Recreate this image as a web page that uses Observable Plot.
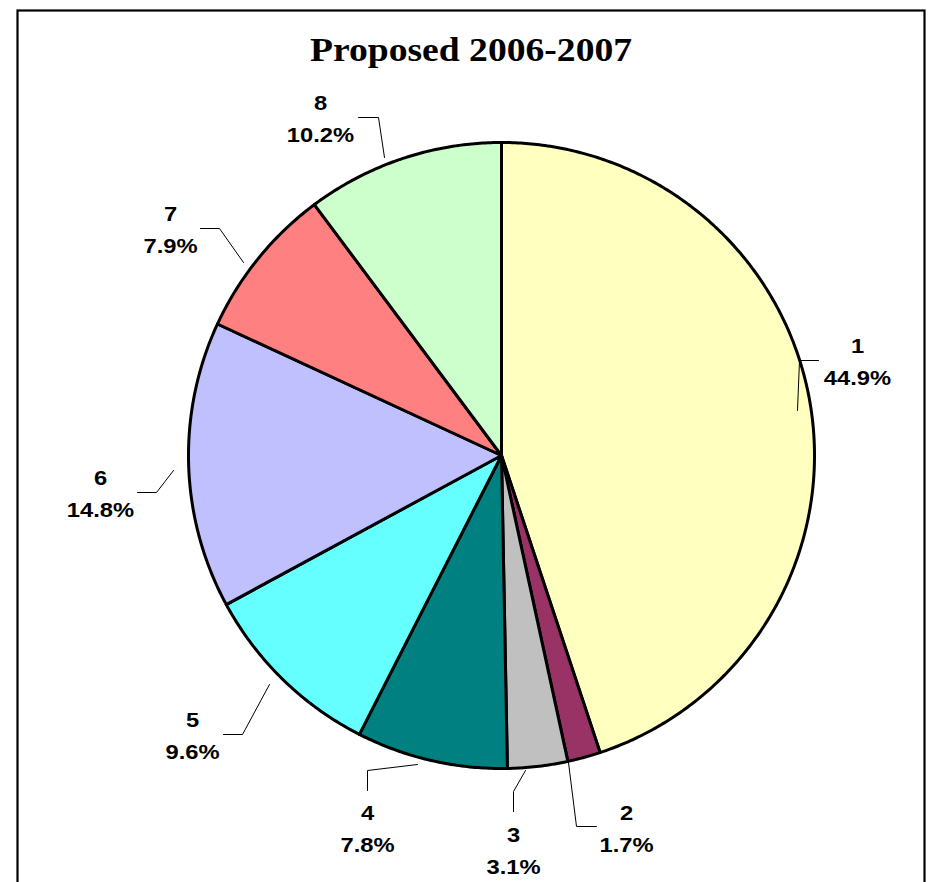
<!DOCTYPE html>
<html><head><meta charset="utf-8">
<script src="https://cdn.jsdelivr.net/npm/d3@7"></script>
<script src="https://cdn.jsdelivr.net/npm/@observablehq/plot@0.6"></script>
<style>body{margin:0;background:#fff;} #chart svg{display:block;}</style>
</head><body><div id="chart"></div>
<script>
// ---- data ----
const title = "Proposed 2006-2007";
const categories = ["1", "2", "3", "4", "5", "6", "7", "8"];
const shares = [44.9, 1.7, 3.1, 7.8, 9.6, 14.8, 7.9, 10.2];
const percentLabels = ["44.9%", "1.7%", "3.1%", "7.8%", "9.6%", "14.8%", "7.9%", "10.2%"];
const sliceColors = ["#FFFFC0", "#993366", "#C0C0C0", "#008080", "#66FFFF", "#C0C0FF", "#FF8080", "#CCFFCC"];

// ---- layout (pixels) ----
const W = 930, H = 882, CX = 501, CY = 455, R = 313;
const labelPos = [[857, 352], [626, 819], [513, 841], [367, 819], [192, 726], [100, 484], [170, 220], [320, 109]];
const lineGap = 32;
const leaderPaths = [
  [[818, 360], [799, 360], [797, 410]],
  [[596, 826], [576, 826], [568, 762]],
  [[513, 811], [513, 791], [525, 770]],
  [[367, 790], [367, 770], [417, 764]],
  [[223, 734], [242, 734], [269, 684]],
  [[137, 492], [156, 492], [173, 470]],
  [[200, 228], [219, 228], [243, 262]],
  [[358, 117], [378, 117], [384, 157]]
];

const arcs = d3.pie().sort(null).value(d => d)(shares);
function slicePoints(a) {
  const pts = [{x: CX, y: CY}];
  const n = Math.max(2, Math.ceil((a.endAngle - a.startAngle) / (Math.PI / 360)));
  for (let i = 0; i <= n; i++) {
    const t = a.startAngle + (a.endAngle - a.startAngle) * i / n;
    pts.push({x: CX + R * Math.sin(t), y: CY - R * Math.cos(t)});
  }
  pts.push({x: CX, y: CY});
  return pts;
}

const labelData = categories.map((c, i) => ({name: c, pct: percentLabels[i], x: labelPos[i][0], y: labelPos[i][1]}));
const leaderData = leaderPaths.flatMap((p, i) => p.map(([x, y]) => ({k: categories[i], x, y})));

const sans = "'Liberation Sans', Arial, Helvetica, sans-serif";
const serif = "'Liberation Serif', 'Times New Roman', Times, serif";

const marks = [
  Plot.frame({stroke: "#000", strokeWidth: 2.2}),
  ...arcs.map((a, i) => Plot.line(slicePoints(a), {
    x: "x", y: "y", fill: sliceColors[i], stroke: "#000", strokeWidth: 3, strokeLinejoin: "round"
  })),
  Plot.line(leaderData, {x: "x", y: "y", z: "k", stroke: "#000", strokeWidth: 1}),
  Plot.text(labelData, {x: "x", y: "y", text: "name", lineAnchor: "bottom", fontFamily: sans, fontWeight: "bold", fontSize: 21, fill: "#000"}),
  Plot.text(labelData, {x: "x", y: d => d.y + lineGap, text: "pct", lineAnchor: "bottom", fontFamily: sans, fontWeight: "bold", fontSize: 21, fill: "#000"}),
  Plot.text([title], {frameAnchor: "top", dy: 50, lineAnchor: "bottom", fontFamily: serif, fontWeight: "bold", fontSize: 33, fill: "#000"})
];

const chart = Plot.plot({
  width: W, height: H,
  marginLeft: 17, marginRight: 6, marginTop: 10, marginBottom: -5,
  x: {domain: [0, W], range: [0, W], axis: null},
  y: {domain: [0, H], range: [0, H], axis: null},
  style: {background: "white"},
  marks
});
document.getElementById("chart").appendChild(chart);

// the reference text is drawn horizontally wider than the stock fonts
const textGroups = chart.querySelectorAll('g[aria-label="text"]');
textGroups.forEach((g, gi) => {
  const k = gi === textGroups.length - 1 ? 1.14 : 1.13;
  g.querySelectorAll("text").forEach(t => {
    const w = t.getComputedTextLength();
    if (w > 0) {
      t.setAttribute("textLength", (w * k).toFixed(1));
      t.setAttribute("lengthAdjust", "spacingAndGlyphs");
    }
  });
});
</script>
</body></html>
